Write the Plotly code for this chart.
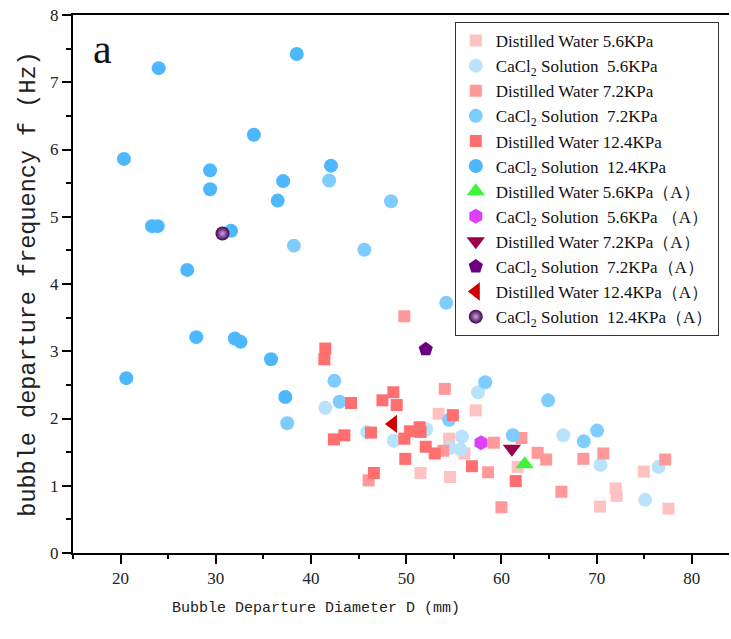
import plotly.graph_objects as go

# ---- measured bubble departure data: diameter D (mm), frequency f (Hz) ----
dw56_d = [53.4, 57.3, 54.5, 56.1, 51.5, 54.6, 61.7, 70.35, 74.95, 72.0, 72.1, 77.55]
dw56_f = [2.07, 2.12, 1.70, 1.48, 1.19, 1.13, 1.28, 0.69, 1.21, 0.96, 0.85, 0.66]

ca56_d = [41.5, 45.9, 48.7, 52.1, 54.6, 55.85, 55.7, 57.55, 66.5, 70.4, 76.5, 75.1]
ca56_f = [2.16, 1.80, 1.67, 1.84, 1.56, 1.73, 1.54, 2.39, 1.75, 1.31, 1.28, 0.79]

dw72_d = [49.8, 54.05, 53.9, 59.2, 58.6, 46.05, 60.0, 62.1, 63.8, 64.7, 68.6, 70.7, 66.3, 77.2]
dw72_f = [3.52, 2.44, 1.52, 1.64, 1.20, 1.08, 0.68, 1.71, 1.49, 1.39, 1.40, 1.48, 0.91, 1.39]

ca72_d = [41.9, 38.2, 48.4, 45.6, 54.2, 42.45, 43.0, 37.5, 58.3, 54.5, 64.9, 61.2, 68.65, 70.05]
ca72_f = [5.54, 4.57, 5.23, 4.51, 3.72, 2.56, 2.25, 1.93, 2.54, 1.98, 2.27, 1.75, 1.66, 1.82]

dw124_d = [41.5, 41.4, 44.2, 47.5, 48.65, 49.0, 54.9, 42.4, 43.5, 46.3, 49.8, 50.4,
           51.4, 51.5, 52.05, 53.0, 49.9, 56.9, 46.6, 61.5]
dw124_f = [3.04, 2.88, 2.23, 2.27, 2.39, 2.20, 2.05, 1.69, 1.75, 1.79, 1.70, 1.81,
           1.87, 1.80, 1.58, 1.48, 1.40, 1.29, 1.19, 1.07]

ca124_d = [24.0, 38.5, 34.0, 20.35, 29.4, 29.4, 37.07, 36.5, 42.1, 23.3, 23.9, 31.6,
           27.0, 27.95, 32.0, 32.6, 35.8, 20.6, 37.3]
ca124_f = [7.21, 7.42, 6.22, 5.86, 5.69, 5.41, 5.53, 5.24, 5.76, 4.86, 4.86, 4.79,
           4.21, 3.21, 3.19, 3.14, 2.88, 2.60, 2.32]

# single averaged points (A)
dw56a_d, dw56a_f = [62.45], [1.32]
ca56a_d, ca56a_f = [57.86], [1.64]
dw72a_d, dw72a_f = [61.1], [1.55]
ca72a_d, ca72a_f = [52.05], [3.03]
dw124a_d, dw124a_f = [48.6], [1.92]
ca124a_d, ca124a_f = [30.7], [4.75]

SUB = "CaCl<sub>2</sub> Solution\u00a0 "
names = [
    "Distilled Water 5.6KPa", SUB + "5.6KPa",
    "Distilled Water 7.2KPa", SUB + "7.2KPa",
    "Distilled Water 12.4KPa", SUB + "12.4KPa",
    "Distilled Water 5.6KPa（A）", SUB + "5.6KPa （A）",
    "Distilled Water 7.2KPa（A）", SUB + "7.2KPa（A）",
    "Distilled Water 12.4KPa（A）", SUB + "12.4KPa（A）",
]

series = [
    (dw56_d, dw56_f, "square", 12, "#FFC2C2"),
    (ca56_d, ca56_f, "circle", 14, "#B9E3FC"),
    (dw72_d, dw72_f, "square", 12, "#FF9999"),
    (ca72_d, ca72_f, "circle", 14, "#7FCCFF"),
    (dw124_d, dw124_f, "square", 12, "#FF6F6F"),
    (ca124_d, ca124_f, "circle", 14, "#4DB8FF"),
    (dw56a_d, dw56a_f, "triangle-up", 16, "#3CF53C"),
    (ca56a_d, ca56a_f, "hexagon", 15, "#DD40F8"),
    (dw72a_d, dw72a_f, "triangle-down", 16, "#990050"),
    (ca72a_d, ca72a_f, "pentagon", 15, "#6A007F"),
    (dw124a_d, dw124a_f, "triangle-left", 16, "#D00000"),
]

fig = go.Figure()
for i, (xs, ys, sym, sz, col) in enumerate(series):
    fig.add_trace(go.Scatter(
        x=xs, y=ys, mode="markers", name=names[i],
        legendgroup=f"g{i // 2}",
        marker=dict(symbol=sym, size=sz, color=col, line=dict(width=0)),
    ))

# shaded sphere marker
fig.add_trace(go.Scatter(
    x=ca124a_d, y=ca124a_f, mode="markers", name=names[11],
    legendgroup="g5",
    marker=dict(symbol="circle", size=14, color="#3E0052",
                gradient=dict(type="radial", color="#C8A2D8"),
                line=dict(width=0)),
))

axis_font = dict(family="Liberation Serif", size=17, color="#222222")

fig.update_layout(
    width=731, height=639,
    margin=dict(l=73, r=2, t=15, b=86),
    paper_bgcolor="white", plot_bgcolor="white",
    showlegend=True,
    legend=dict(
        x=0.582, y=0.987, xanchor="left", yanchor="top",
        bordercolor="#333333", borderwidth=1, bgcolor="white",
        font=dict(family="Liberation Serif", size=17, color="#111111"),
        traceorder="grouped", tracegroupgap=0,
        itemsizing="trace",
        entrywidth=255, entrywidthmode="pixels",
    ),
    annotations=[
        dict(text="a", xref="paper", yref="paper", x=0.045, y=0.937,
             xanchor="center", yanchor="middle", showarrow=False,
             font=dict(family="Liberation Serif", size=42, color="#111111")),
        dict(text="Bubble Departure Diameter D (mm)", xref="paper", yref="paper",
             x=(316 - 73) / 656, y=-(608 - 553) / 538,
             xanchor="center", yanchor="middle", showarrow=False,
             font=dict(family="Liberation Mono", size=15, color="#222222")),
    ],
)

fig.update_xaxes(
    range=[15, 83.9], showgrid=False, zeroline=False,
    showline=True, linecolor="black", linewidth=2, mirror=True,
    ticks="outside", tickwidth=2, ticklen=9, tickcolor="black",
    tick0=20, dtick=10,
    minor=dict(ticks="outside", ticklen=4, tickwidth=1.5, tickcolor="black", dtick=5, tick0=15),
    tickfont=axis_font,
)
fig.update_yaxes(
    range=[0, 8], showgrid=False, zeroline=False,
    showline=True, linecolor="black", linewidth=2,
    ticks="outside", tickwidth=2, ticklen=9, tickcolor="black",
    tick0=0, dtick=1,
    minor=dict(ticks="outside", ticklen=5, tickwidth=1.5, tickcolor="black", dtick=0.5),
    tickfont=axis_font,
    title=dict(text="bubble departure frequency f (Hz)",
               font=dict(family="Liberation Mono", size=23.5, color="#222222"), standoff=8),
)

fig.write_html("out.html")
